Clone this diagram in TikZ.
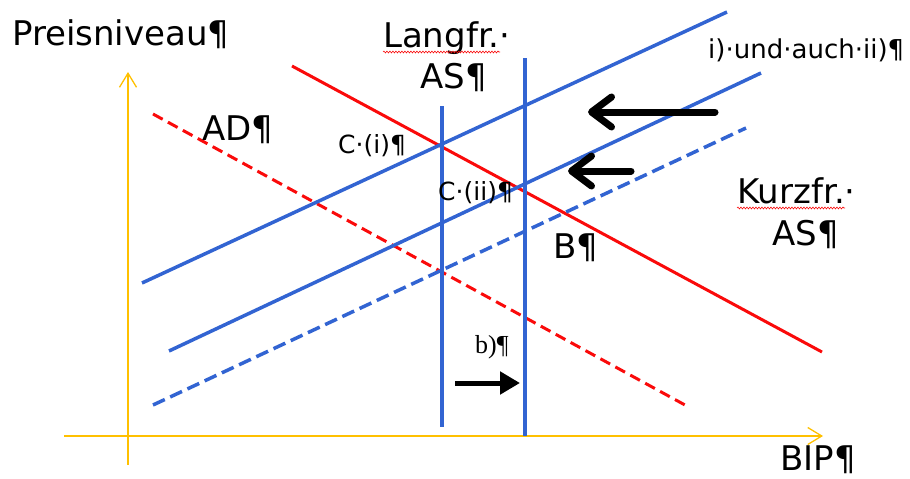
\documentclass[tikz,border=0pt]{standalone}
\usepackage{fontspec}
\setmainfont{DejaVu Sans}
\newfontfamily\serifb{Liberation Serif}
\usetikzlibrary{arrows.meta,decorations.pathmorphing}
\definecolor{asblue}{RGB}{50,100,210}
\definecolor{adred}{RGB}{250,10,10}
\definecolor{axisyel}{RGB}{255,192,0}
\begin{document}
\begin{tikzpicture}[x=1pt,y=-1pt,
  biglbl/.style={anchor=base west,inner sep=0pt,font=\fontsize{34}{40}\selectfont},
  midlbl/.style={anchor=base west,inner sep=0pt,font=\fontsize{25}{28}\selectfont},
  axisline/.style={draw=axisyel,line width=1.3pt,-{Straight Barb[length=14pt,width=17pt]}},
  ascurve/.style={draw=asblue,line width=3.5pt},
  adcurve/.style={draw=adred,line width=3pt},
  asdash/.style={ascurve,dash pattern=on 13pt off 6pt},
  addash/.style={adcurve,dash pattern=on 11pt off 6pt},
  shiftarrow/.style={draw=black,line width=7pt,line cap=round,-{Straight Barb[length=20pt,width=30pt,round]}},
  shiftarrowb/.style={draw=black,line width=5pt,-{Triangle[length=20pt,width=22pt]}},
  spell/.style={draw=adred,line width=0.6pt,decorate,decoration={snake,amplitude=0.9pt,segment length=3pt}}]
\useasboundingbox (0,0) rectangle (910,479);
% axes
\coordinate (yb) at (128,465); \coordinate (yt) at (128,72);
\coordinate (xl) at (64,436);  \coordinate (xr) at (823,436);
\draw[axisline] (yb) -- (yt);
\draw[axisline] (xl) -- (xr);
% AD curves
\coordinate (ad1a) at (292,66);  \coordinate (ad1b) at (822,352);
\coordinate (ad0a) at (153,114); \coordinate (ad0b) at (685,405);
\draw[addash] (ad0a) -- (ad0b);
\draw[adcurve] (ad1a) -- (ad1b);
% short-run AS curves
\coordinate (as0a) at (153,405); \coordinate (as0b) at (746,128);
\coordinate (as1a) at (169,351); \coordinate (as1b) at (761,73);
\coordinate (as2a) at (142,283); \coordinate (as2b) at (727,12);
\draw[asdash] (as0a) -- (as0b);
\draw[ascurve] (as1a) -- (as1b);
\draw[ascurve] (as2a) -- (as2b);
% long-run AS curves
\coordinate (lr0t) at (442,106); \coordinate (lr0b) at (442,427);
\coordinate (lr1t) at (525,58);  \coordinate (lr1b) at (525,436);
\draw[ascurve] (lr0t) -- (lr0b);
\draw[ascurve] (lr1t) -- (lr1b);
% shift arrows
\coordinate (a1s) at (715,112); \coordinate (a1e) at (588,112);
\coordinate (a2s) at (631,171); \coordinate (a2e) at (568,171);
\coordinate (a3s) at (455,383); \coordinate (a3e) at (520,383);
\draw[shiftarrow] (a1s) -- (a1e);
\draw[shiftarrow] (a2s) -- (a2e);
\draw[shiftarrowb] (a3s) -- (a3e);
% labels
\node[biglbl] (preis) at (12,45) {Preisniveau¶};
\node[biglbl] (lang1) at (383,47) {Langfr.·};
\node[biglbl] (lang2) at (420,88) {AS¶};
\node[biglbl] (ad) at (202,140) {AD¶};
\node[biglbl] (kurz1) at (737,203) {Kurzfr.·};
\node[biglbl] (kurz2) at (772,245) {AS¶};
\node[biglbl] (b) at (553,258) {B¶};
\node[biglbl] (bip) at (780,470) {BIP¶};
\node[midlbl] (ci) at (338,153) {C·(i)¶};
\node[midlbl] (cii) at (438,200) {C·(ii)¶};
\node[anchor=base west,inner sep=0pt,font=\fontsize{26}{30}\selectfont] (undauch) at (708,58) {i)·und·auch·ii)¶};
\node[anchor=base west,inner sep=0pt,font=\serifb\fontsize{26}{30}\selectfont] (bshift) at (475,353) {b)¶};
% spell-check marks
\coordinate (sp1a) at (383,52); \coordinate (sp1b) at (500,52);
\coordinate (sp2a) at (737,208); \coordinate (sp2b) at (845,208);
\draw[spell] (sp1a) -- (sp1b);
\draw[spell] (sp2a) -- (sp2b);
\end{tikzpicture}
\end{document}
